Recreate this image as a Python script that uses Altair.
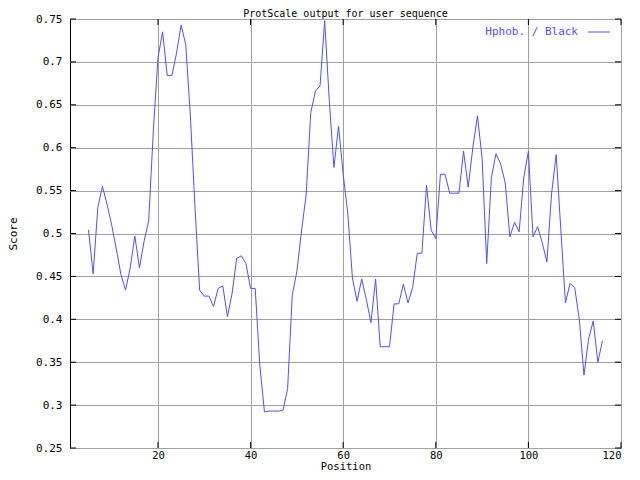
import altair as alt
import pandas as pd

positions = list(range(5, 117))
scores = [
    0.504, 0.453, 0.530, 0.555, 0.534, 0.510, 0.482, 0.452, 0.434, 0.460,  # 5-14
    0.497, 0.460, 0.491, 0.515, 0.620, 0.705, 0.735, 0.684, 0.684, 0.710,  # 15-24
    0.743, 0.720, 0.637, 0.530, 0.434, 0.427, 0.427, 0.415, 0.436, 0.439,  # 25-34
    0.403, 0.430, 0.471, 0.474, 0.465, 0.436, 0.436, 0.346, 0.292, 0.293,  # 35-44
    0.293, 0.293, 0.294, 0.319, 0.428, 0.456, 0.503, 0.545, 0.641, 0.666,  # 45-54
    0.672, 0.748, 0.655, 0.577, 0.625, 0.569, 0.523, 0.448, 0.421, 0.447,  # 55-64
    0.423, 0.396, 0.447, 0.368, 0.368, 0.368, 0.418, 0.418, 0.441, 0.419,  # 65-74
    0.437, 0.477, 0.477, 0.556, 0.504, 0.494, 0.569, 0.569, 0.547, 0.547,  # 75-84
    0.547, 0.596, 0.554, 0.600, 0.637, 0.588, 0.465, 0.565, 0.593, 0.581,  # 85-94
    0.559, 0.496, 0.513, 0.502, 0.565, 0.596, 0.496, 0.508, 0.489, 0.467,  # 95-104
    0.546, 0.592, 0.505, 0.419, 0.442, 0.437, 0.400, 0.335, 0.377, 0.398,  # 105-114
    0.350, 0.375,  # 115-116
]
x_ticks = [20, 40, 60, 80, 100, 120]
y_ticks = [0.25, 0.3, 0.35, 0.4, 0.45, 0.5, 0.55, 0.6, 0.65, 0.7, 0.75]
title_text = "ProtScale output for user sequence"
x_title = "Position"
y_title = "Score"
legend_label = "Hphob. / Black"

MONO = "DejaVu Sans Mono"
LINE = "#5050ff"
W, H = 551, 429

df = pd.DataFrame({"Position": positions, "Score": scores})
xt = pd.DataFrame({"Position": x_ticks})
yt = pd.DataFrame({"Score": y_ticks})

xscale = alt.Scale(domain=[1, 120], nice=False, zero=False)
yscale = alt.Scale(domain=[0.25, 0.75], nice=False, zero=False)

line = alt.Chart(df).mark_line(color=LINE, strokeWidth=1).encode(
    x=alt.X("Position:Q", scale=xscale,
            axis=alt.Axis(values=x_ticks, title=x_title, format="d", grid=True,
                          ticks=False, tickSize=0, domain=False, labelPadding=2,
                          labelFontSize=10.5, titleFontSize=10.5,
                          titleX=W / 2, titleY=23.5, titleBaseline="bottom",
                          titleAlign="center")),
    y=alt.Y("Score:Q", scale=yscale,
            axis=alt.Axis(values=y_ticks, title=y_title, format=".2~f", grid=True,
                          ticks=False, tickSize=0, domain=False, labelPadding=8,
                          titleX=-57, titleY=H / 2, titleAngle=270,
                          titleBaseline="middle", titleAlign="center")),
)

tick_col = "black"
ytick_left = alt.Chart(yt).mark_rule(color=tick_col, strokeWidth=1).encode(
    y=alt.Y("Score:Q", scale=yscale), x=alt.value(0), x2=alt.value(6))
ytick_right = alt.Chart(yt).mark_rule(color=tick_col, strokeWidth=1).encode(
    y=alt.Y("Score:Q", scale=yscale), x=alt.value(W - 6), x2=alt.value(W))
xtick_top = alt.Chart(xt).mark_rule(color=tick_col, strokeWidth=1).encode(
    x=alt.X("Position:Q", scale=xscale), y=alt.value(0), y2=alt.value(6))
xtick_bottom = alt.Chart(xt).mark_rule(color=tick_col, strokeWidth=1).encode(
    x=alt.X("Position:Q", scale=xscale), y=alt.value(H - 6), y2=alt.value(H))

leg_df = pd.DataFrame({"label": [legend_label]})
leg_text = alt.Chart(leg_df).mark_text(
    align="right", baseline="middle", color=LINE, font=MONO, fontSize=11
).encode(text="label:N", x=alt.value(508), y=alt.value(13))
leg_line = alt.Chart(leg_df).mark_rule(color=LINE, strokeWidth=1).encode(
    x=alt.value(518), x2=alt.value(540), y=alt.value(13))

title_df = pd.DataFrame({"t": [title_text]})
title_mark = alt.Chart(title_df).mark_text(
    align="center", baseline="bottom", color="black", font=MONO, fontSize=10
).encode(text="t:N", x=alt.value(W / 2), y=alt.value(-0.5))

chart = alt.layer(
    line, ytick_left, ytick_right, xtick_top, xtick_bottom, leg_text, leg_line,
    title_mark
).properties(
    width=W, height=H,
    autosize=alt.AutoSizeParams(type="none"),
    padding={"left": 62, "top": 11, "right": 11, "bottom": 24},
    background="white",
).configure_view(
    stroke="black", strokeWidth=1
).configure_axis(
    gridColor="#a0a0a0", gridWidth=1, gridOpacity=1,
    labelFont=MONO, labelFontSize=11, labelColor="black",
    titleFont=MONO, titleFontSize=11, titleFontWeight="normal", titleColor="black",
)

chart.save("out.html", embed_options={"renderer": "svg", "actions": False})
